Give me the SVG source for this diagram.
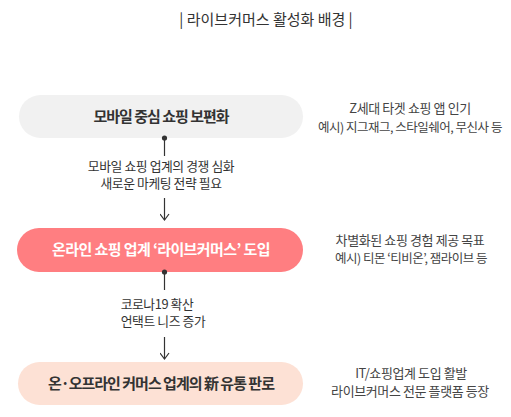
<svg xmlns="http://www.w3.org/2000/svg" width="511" height="417" viewBox="0 0 511 417">
<style>
text{font-family:"Noto Sans CJK KR","Noto Sans",sans-serif;text-anchor:middle;fill:#333}
.pill{font-size:15px;font-weight:bold;letter-spacing:-1px}
.lbl{font-size:12.8px;letter-spacing:-0.4px}
.r1{font-size:13px;letter-spacing:-0.4px;fill:#444}
.r2{font-size:12.5px;letter-spacing:-0.5px;fill:#444}
.ln{stroke:#333;stroke-width:1.2;fill:none}
</style>
<defs>
<marker id="arr" viewBox="0 0 10 10" refX="9" refY="5" markerWidth="10" markerHeight="10" markerUnits="userSpaceOnUse" orient="auto">
<path d="M3,0.5 L9,5 L3,9.5" fill="none" stroke="#333" stroke-width="1.2"/>
</marker>
</defs>
<g id="title"><text x="266" y="25" style="font-size:15px;letter-spacing:0px">| 라이브커머스 활성화 배경 |</text></g>
<g id="node1">
<rect x="19" y="95" width="284" height="43" rx="21.5" fill="#f1f1f1"/>
<text class="pill" x="161" y="122">모바일 중심 쇼핑 보편화</text>
</g>
<g id="node2">
<rect x="17" y="228" width="286" height="44" rx="22" fill="#ff7e81"/>
<text class="pill" x="161" y="255" style="fill:#fff;letter-spacing:-0.6px">온라인 쇼핑 업계 ‘라이브커머스’ 도입</text>
</g>
<g id="node3">
<rect x="18" y="362" width="285" height="43" rx="21.5" fill="#fde1d5"/>
<text class="pill" x="161" y="389">온·오프라인 커머스 업계의 新 유통 판로</text>
</g>
<g id="note1">
<text class="r1" x="410" y="113">Z세대 타겟 쇼핑 앱 인기</text>
<text class="r2" x="410" y="132">예시) 지그재그, 스타일쉐어, 무신사 등</text>
</g>
<g id="note2">
<text class="r1" x="410" y="245">차별화된 쇼핑 경험 제공 목표</text>
<text class="r2" x="411" y="263">예시) 티몬 ‘티비온’, 잼라이브 등</text>
</g>
<g id="note3">
<text class="r1" x="411" y="378">IT/쇼핑업계 도입 활발</text>
<text class="r1" x="410" y="396">라이브커머스 전문 플랫폼 등장</text>
</g>
<g id="connectors">
<circle cx="164.5" cy="138" r="2.6" fill="#333"/>
<line class="ln" x1="164.5" y1="138" x2="164.5" y2="156"/>
<text class="lbl" x="161" y="171">모바일 쇼핑 업계의 경쟁 심화</text>
<text class="lbl" x="161" y="188">새로운 마케팅 전략 필요</text>
<line class="ln" x1="164.5" y1="198" x2="164.5" y2="220" marker-end="url(#arr)"/>
<circle cx="164.5" cy="272" r="2.6" fill="#333"/>
<line class="ln" x1="164.5" y1="272" x2="164.5" y2="290"/>
<text class="lbl" x="157" y="309">코로나19 확산</text>
<text class="lbl" x="163" y="326">언택트 니즈 증가</text>
<line class="ln" x1="164.5" y1="337" x2="164.5" y2="359" marker-end="url(#arr)"/>
</g>
</svg>
